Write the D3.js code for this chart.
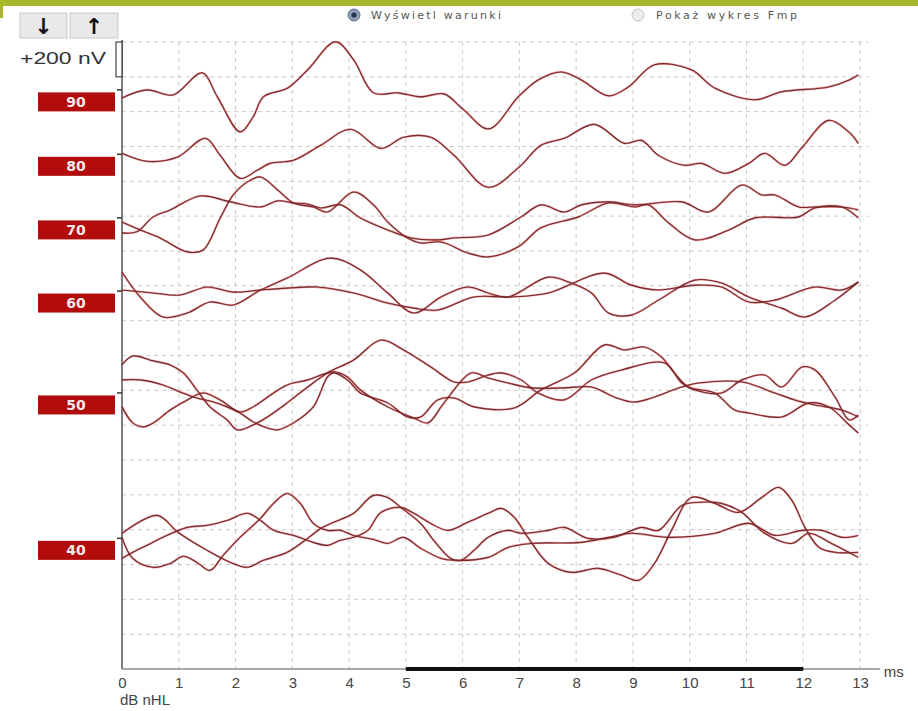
<!DOCTYPE html>
<html>
<head>
<meta charset="utf-8">
<script src="https://cdn.jsdelivr.net/npm/d3@7/dist/d3.min.js"></script>
<style>
  html, body { margin: 0; padding: 0; background: #fff; }
  svg { display: block; }
</style>
</head>
<body>
<svg id="abr" width="918" height="711"></svg>
<script>
// ABR latency-intensity series: time in ms, amplitude in nV relative to each level's baseline
const levels = [90, 80, 70, 60, 50, 40];
const baselineNV = [3325, 2955, 2590, 2170, 1585, 750];   // vertical offset of each level (nV)
const msTicks = [0, 1, 2, 3, 4, 5, 6, 7, 8, 9, 10, 11, 12, 13];
const analysisWindow = [5, 12];                              // ms
const scaleBarNV = 200;

const trace90 = [[0,-46],[0.44,0],[0.90,-29],[1.41,98],[1.68,-40],[2.08,-241],[2.31,-155],[2.49,-40],[2.92,11],[3.27,115],[3.76,276],[4.08,172],[4.43,-17],[4.86,-17],[5.26,-40],[5.67,-23],[6.02,-115],[6.46,-224],[6.98,-40],[7.33,57],[7.74,103],[8.09,57],[8.57,-34],[8.92,17],[9.38,144],[10.03,115],[10.44,11],[11.15,-57],[11.62,-11],[12.45,17],[12.81,57],[12.97,86]];
const trace80 = [[0,6],[0.44,-40],[0.97,-17],[1.47,92],[1.73,-6],[2.08,-138],[2.38,-92],[2.61,-52],[3.02,-34],[3.50,52],[4.03,144],[4.56,34],[4.96,98],[5.44,98],[5.85,-6],[6.45,-189],[6.99,-75],[7.38,52],[7.79,92],[8.32,172],[8.85,63],[9.15,80],[9.45,-6],[9.91,-63],[10.21,-52],[10.62,-109],[11.04,-52],[11.32,6],[11.68,-63],[11.98,40],[12.45,195],[12.81,126],[12.97,63]];
const trace70a = [[0,-23],[0.32,-69],[0.67,-115],[1.15,-195],[1.43,-184],[1.73,0],[1.96,132],[2.21,207],[2.44,235],[2.74,161],[3.02,86],[3.37,63],[3.62,34],[4.08,149],[4.43,75],[4.68,-23],[5.03,-115],[5.26,-144],[5.62,-138],[6.09,-201],[6.45,-224],[6.98,-166],[7.38,-57],[8.04,6],[8.57,86],[9.03,63],[9.27,75],[9.63,-29],[10.09,-126],[10.69,-69],[11.15,0],[11.92,6],[12.20,57],[12.68,63],[12.97,0]];
const trace70b = [[0,-86],[0.26,-80],[0.55,6],[0.85,46],[1.38,126],[1.91,92],[2.44,63],[2.74,98],[3.02,86],[3.27,80],[3.50,57],[3.85,75],[4.20,0],[4.68,-69],[5.09,-115],[5.56,-126],[5.85,-115],[6.45,-98],[7.03,6],[7.38,75],[7.79,34],[8.09,75],[8.57,92],[9.03,75],[9.86,92],[10.33,34],[10.92,189],[11.27,132],[11.50,132],[11.92,63],[12.20,63],[12.68,63],[12.97,46]];
const trace60a = [[0,109],[0.32,-34],[0.72,-149],[1.15,-126],[1.55,-63],[1.96,-80],[2.44,6],[2.91,75],[3.67,189],[4.20,121],[4.68,-11],[5.14,-126],[5.62,-34],[6.09,23],[6.45,-11],[6.80,-34],[7.51,80],[7.91,46],[8.27,-11],[8.57,-126],[8.97,-138],[9.45,-52],[10.09,63],[10.56,46],[11.04,-34],[11.62,-98],[12.03,-149],[12.56,-52],[12.97,52]];
const trace60b = [[0,6],[0.55,-11],[1.02,-23],[1.50,23],[1.96,-6],[2.44,6],[2.91,17],[3.44,23],[4.08,-11],[4.68,-69],[5.14,-98],[5.56,-109],[6.20,-34],[6.85,-34],[7.51,-11],[8.50,103],[8.97,34],[9.45,6],[10.09,34],[10.56,23],[11.04,-63],[11.50,-52],[12.20,23],[12.68,6],[12.97,52]];
const trace50a = [[0,161],[0.19,212],[0.55,184],[0.85,161],[1.08,115],[1.32,17],[1.55,-80],[1.85,-155],[2.03,-212],[2.31,-184],[2.56,-138],[2.91,-57],[3.27,34],[3.62,115],[4.08,189],[4.56,304],[4.96,247],[5.44,149],[5.85,63],[6.09,63],[6.45,103],[6.68,115],[7.03,75],[7.33,0],[7.79,-40],[8.27,75],[8.80,132],[9.56,172],[9.86,57],[10.09,17],[10.56,0],[10.92,75],[11.32,103],[11.62,34],[11.98,149],[12.21,132],[12.56,-23],[12.81,-155],[12.97,-126]];
const trace50b = [[0,75],[0.32,75],[0.72,46],[1.02,6],[1.32,-29],[1.61,-52],[1.85,-80],[2.08,-115],[2.31,-166],[2.56,-201],[2.74,-212],[3.02,-172],[3.37,-80],[3.62,92],[3.73,115],[3.97,75],[4.20,0],[4.68,-57],[5.03,-138],[5.26,-138],[5.56,-40],[5.85,-29],[6.20,-80],[6.91,-86],[7.38,17],[7.97,115],[8.50,276],[8.85,247],[9.20,264],[9.50,207],[9.73,115],[9.98,34],[10.44,0],[10.79,-98],[11.04,-115],[11.62,-138],[12.10,-57],[12.45,-80],[12.81,-184],[12.97,-230]];
const trace50c = [[0,-80],[0.19,-172],[0.37,-195],[0.55,-172],[0.85,-98],[1.15,-40],[1.43,0],[1.73,-40],[2.08,-109],[2.31,-80],[2.67,0],[2.91,46],[3.27,75],[3.73,121],[3.97,92],[4.20,17],[4.68,-80],[5.14,-144],[5.39,-172],[5.62,-80],[5.74,-29],[6.15,115],[6.45,86],[6.80,57],[7.21,29],[7.79,29],[8.27,34],[8.67,-23],[9.03,-52],[9.86,34],[10.16,57],[10.92,63],[11.50,0],[11.85,-40],[12.21,-69],[12.68,-98],[12.97,-138]];
const trace40a = [[0,29],[0.62,132],[0.99,34],[1.50,-69],[1.91,-138],[2.21,-166],[2.49,-126],[2.91,-80],[3.27,0],[3.50,57],[3.73,92],[4.08,144],[4.43,247],[4.68,235],[4.91,178],[5.26,86],[5.49,-11],[5.79,-115],[5.97,-126],[6.20,-69],[6.45,6],[6.80,46],[7.03,29],[7.51,46],[7.79,63],[8.21,0],[8.67,6],[9.15,63],[9.45,46],[9.86,189],[10.16,207],[10.56,201],[10.92,149],[11.32,29],[11.80,-29],[12.10,29],[12.50,-29],[12.97,-109]];
const trace40b = [[0,6],[0.19,-115],[0.55,-166],[0.85,-144],[1.08,-103],[1.32,-138],[1.55,-184],[1.78,-98],[2.08,6],[2.44,115],[2.67,201],[2.91,258],[3.14,201],[3.37,86],[3.62,46],[3.85,46],[4.08,17],[4.43,-6],[4.68,-29],[4.96,6],[5.26,-57],[5.62,-115],[5.85,-126],[6.45,-109],[6.80,-52],[7.21,-29],[8.09,-23],[8.57,6],[8.97,29],[9.63,6],[10.44,29],[11.04,86],[11.50,17],[11.98,46],[12.33,46],[12.68,6],[12.97,17]];
const trace40c = [[0,-115],[0.19,-80],[0.44,-40],[0.72,6],[1.15,63],[1.50,75],[1.85,103],[2.21,144],[2.44,103],[2.67,46],[3.02,17],[3.37,-23],[3.62,-40],[3.85,-11],[4.08,6],[4.33,46],[4.56,149],[4.91,178],[5.14,144],[5.44,86],[5.74,46],[6.09,92],[6.45,144],[6.68,172],[6.91,121],[7.15,6],[7.51,-144],[7.91,-195],[8.39,-172],[8.80,-212],[9.10,-241],[9.38,-144],[9.68,46],[10.03,235],[10.44,201],[10.86,149],[11.27,235],[11.57,293],[11.80,218],[12.03,63],[12.28,-52],[12.56,-80],[12.97,-80]];

// which traces belong to which stimulus level
const tracesByLevel = [
  [trace90],
  [trace80],
  [trace70a, trace70b],
  [trace60a, trace60b],
  [trace50a, trace50b, trace50c],
  [trace40a, trace40b, trace40c]
];

const svg = d3.select("#abr");
const W = 918, H = 711;

const x = d3.scaleLinear().domain([0, 13]).range([122, 860]);
const y = d3.scaleLinear().domain([0, 3600]).range([669, 42]);
const yTicks = d3.range(200, 3601, scaleBarNV);

// header strip
svg.append("rect").attr("x", 0).attr("y", 0).attr("width", W).attr("height", 6).attr("fill", "#a8b72b");
svg.append("rect").attr("x", 0).attr("y", 0).attr("width", 3).attr("height", 18).attr("fill", "#a8b72b");

// display option radio buttons
const radios = [
  { label: "Wyświetl warunki", cx: 354, tx: 371, len: 130, on: true },
  { label: "Pokaż wykres Fmp", cx: 638, tx: 656, len: 141, on: false }
];
const rg = svg.append("g").selectAll("g").data(radios).join("g");
rg.append("circle").attr("cx", d => d.cx).attr("cy", 15).attr("r", 6)
  .attr("fill", d => d.on ? "#8ea0b8" : "#ececec")
  .attr("stroke", d => d.on ? "#5d6f88" : "#c4c4c4").attr("stroke-width", 1);
rg.filter(d => d.on).append("circle").attr("cx", d => d.cx).attr("cy", 15).attr("r", 2.6).attr("fill", "#27364d");
rg.append("text").attr("x", d => d.tx).attr("y", 19)
  .attr("font-family", "DejaVu Sans, sans-serif").attr("font-size", 11)
  .attr("fill", "#555").attr("textLength", d => d.len).attr("lengthAdjust", "spacing")
  .text(d => d.label);

// amplitude step buttons
const buttons = [{ x: 20, w: 47, glyph: "↓" }, { x: 70, w: 48, glyph: "↑" }];
const bg = svg.append("g").selectAll("g").data(buttons).join("g");
bg.append("rect").attr("x", d => d.x).attr("y", 13).attr("width", d => d.w).attr("height", 25)
  .attr("fill", "#e9e9e9").attr("stroke", "#c9c9c9");
bg.append("text").attr("x", d => d.x + d.w / 2).attr("y", 34).attr("text-anchor", "middle")
  .attr("font-family", "DejaVu Sans, sans-serif").attr("font-size", 22).attr("font-weight", "bold")
  .attr("fill", "#111").text(d => d.glyph);

// grid
const grid = svg.append("g").attr("stroke", "#c9c9c9").attr("stroke-width", 1).attr("stroke-dasharray", "4,4");
grid.selectAll("line.v").data(msTicks.filter(t => t > 0)).join("line")
  .attr("x1", d => x(d)).attr("x2", d => x(d)).attr("y1", y(3600)).attr("y2", y(0));
grid.selectAll("line.h").data(yTicks).join("line")
  .attr("x1", x(0)).attr("x2", x(13.15)).attr("y1", d => y(d)).attr("y2", d => y(d));

// x axis
const xAxis = d3.axisBottom(x).tickValues(msTicks).tickSize(0).tickPadding(8).tickFormat(d3.format("d"));
const gx = svg.append("g").attr("transform", `translate(0,${y(0)})`).call(xAxis);
gx.select(".domain").remove();
gx.selectAll("text").attr("font-family", "Liberation Sans, Arial, sans-serif").attr("font-size", 15).attr("fill", "#444");
svg.append("line").attr("x1", x(0)).attr("x2", x(13.35)).attr("y1", y(0)).attr("y2", y(0))
  .attr("stroke", "#8a8a8a").attr("stroke-width", 1.5);
svg.append("line").attr("x1", x(analysisWindow[0])).attr("x2", x(analysisWindow[1])).attr("y1", y(0)).attr("y2", y(0))
  .attr("stroke", "#111").attr("stroke-width", 4);
svg.append("text").attr("x", x(13.35) + 4).attr("y", y(0) + 8)
  .attr("font-family", "Liberation Sans, Arial, sans-serif").attr("font-size", 15).attr("fill", "#444").text("ms");
svg.append("text").attr("x", x(0) - 2).attr("y", 705)
  .attr("font-family", "Liberation Sans, Arial, sans-serif").attr("font-size", 15).attr("fill", "#444").text("dB nHL");

// left axis
svg.append("line").attr("x1", x(0)).attr("x2", x(0)).attr("y1", 40).attr("y2", y(0))
  .attr("stroke", "#7d7d7d").attr("stroke-width", 2);

// amplitude scale bar
svg.append("rect").attr("x", x(0) - 6).attr("y", y(3600)).attr("width", 6)
  .attr("height", y(3600 - scaleBarNV) - y(3600)).attr("fill", "#fff").attr("stroke", "#222").attr("stroke-width", 1);
svg.append("text").attr("x", 20).attr("y", 64)
  .attr("font-family", "Liberation Sans, Arial, sans-serif").attr("font-size", 16).attr("fill", "#333")
  .attr("textLength", 86).attr("lengthAdjust", "spacingAndGlyphs")
  .text(`+${scaleBarNV} nV`);

// waveforms
const line = d3.line()
  .x(d => x(d[0]))
  .y(d => y(d[1]))
  .curve(d3.curveCatmullRom.alpha(0.5));

const series = [];
tracesByLevel.forEach((group, i) => {
  group.forEach(tr => series.push(tr.map(p => [p[0], baselineNV[i] + p[1]])));
});

const wg = svg.append("g").attr("fill", "none");
wg.selectAll("path.halo").data(series).join("path").attr("class", "halo")
  .attr("d", line).attr("stroke", "#e23b3b").attr("stroke-width", 2.2).attr("stroke-opacity", 0.5)
  .attr("stroke-linejoin", "round");
wg.selectAll("path.core").data(series).join("path").attr("class", "core")
  .attr("d", line).attr("stroke", "#6e2a2d").attr("stroke-width", 1.1)
  .attr("stroke-linejoin", "round");

// level labels and baseline markers
const lg = svg.append("g").selectAll("g").data(levels).join("g");
lg.append("line").attr("x1", x(0) - 5).attr("x2", x(0)).attr("y1", (d, i) => y(baselineNV[i])).attr("y2", (d, i) => y(baselineNV[i]))
  .attr("stroke", "#333").attr("stroke-width", 1.5);
lg.append("rect").attr("x", 38).attr("width", 77).attr("height", 19)
  .attr("y", (d, i) => y(baselineNV[i]) + 12 - 9.5).attr("fill", "#b10b0b");
lg.append("text").attr("x", 76).attr("y", (d, i) => y(baselineNV[i]) + 17)
  .attr("text-anchor", "middle").attr("font-family", "DejaVu Sans, sans-serif").attr("font-size", 14)
  .attr("font-weight", "bold").attr("fill", "#f3eaea").text(d => d);
</script>
</body>
</html>
